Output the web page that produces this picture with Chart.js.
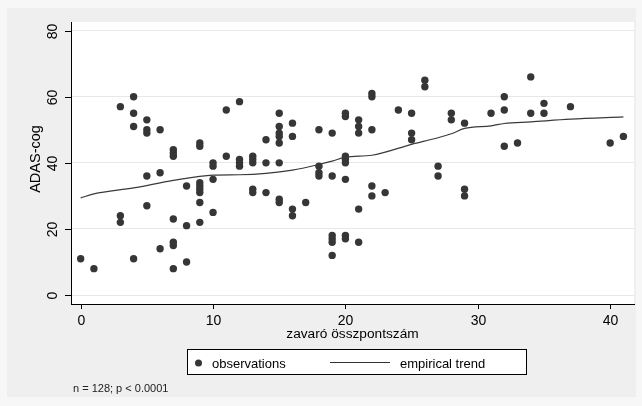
<!DOCTYPE html>
<html>
<head>
<meta charset="utf-8">
<script src="https://cdn.jsdelivr.net/npm/chart.js@4/dist/chart.umd.min.js"></script>
<style>
  html, body { margin: 0; padding: 0; background: #f7f7f7; }
  #wrap { position: absolute; left: 0; top: 0; width: 642px; height: 406px; }
</style>
</head>
<body>
<div id="wrap"><canvas id="c" width="642" height="406"></canvas></div>
<script>
// ---- data ----
const obsX = [0,1,3,3,3,4,4,4,4,5,5,5,5,5,6,6,6,7,7,7,7,7,7,7,8,8,8,
  9,9,9,9,9,9,9,9,10,10,10,10,11,11,12,12,12,12,13,13,13,13,13,14,14,14,
  15,15,15,15,15,15,15,15,16,16,16,16,17,18,18,18,18,19,19,19,19,19,19,
  20,20,20,20,20,20,20,20,21,21,21,21,21,22,22,22,22,22,23,24,25,25,25,
  26,26,27,27,28,28,29,29,29,31,32,32,32,33,34,34,35,35,37,40,41];
const obsY = [11,8,57,24,22,60,55,51,11,53,50,49,36,27,50,37,14,44,43,42,23,16,15,8,33,21,10,
  46,45,34,33,32,31,28,22,40,39,35,25,56,42,58.5,41,40,39,42,41,40,32,31,47,40,31,
  55,51,49,48,46,40,29,28,52,48,26,24,28,50,39,37,36,49,36,18,17,16,12,
  55,54,42,41,40,35,18,17,53,51,49,26,16,61,60,50,33,30,31,56,55,49,47,
  65,63,39,36,55,53,52,32,30,55,60,56,45,46,66,55,58,55,57,46,48];
const trendX = [0,1,4,7,10,12,14,16,18,19,20,22,25,27,28,29,31,32,34,37,41];
const trendY = [29.4,30.6,32.4,34.7,36.3,36.4,36.8,37.8,39.5,40.5,41.7,42.3,45.6,47.6,48.8,50.4,51.2,51.9,52.4,53.2,53.9];
const xTicks = [0,10,20,30,40];
const yTicks = [0,20,40,60,80];
const xTitle = "zavaró összpontszám";
const yTitle = "ADAS-cog";
const legendLabels = ["observations", "empirical trend"];
const footnote = "n = 128; p < 0.0001";

const FONT = '"Liberation Sans", Arial, sans-serif';
const DOT = '#363636';

const obsData = obsX.map((x, i) => ({x: x, y: obsY[i]}));
const trendData = trendX.map((x, i) => ({x: x, y: trendY[i]}));

const decor = {
  id: 'decor',
  beforeDraw(chart) {
    const ctx = chart.ctx, a = chart.chartArea;
    ctx.save();
    ctx.fillStyle = '#f7f7f7';
    ctx.fillRect(0, 0, chart.width, chart.height);
    ctx.fillStyle = '#efefef';
    ctx.fillRect(7, 8, 629, 389);
    ctx.fillStyle = '#ffffff';
    ctx.fillRect(a.left, a.top, a.right - a.left, a.bottom - a.top);
    ctx.restore();
  },
  afterDraw(chart) {
    const ctx = chart.ctx, a = chart.chartArea;
    const xs = chart.scales.x, ys = chart.scales.y;
    ctx.save();
    ctx.strokeStyle = '#000';
    ctx.lineWidth = 1;
    ctx.fillStyle = '#000';
    // x ticks + labels
    ctx.font = '14px ' + FONT;
    ctx.textAlign = 'center';
    ctx.textBaseline = 'alphabetic';
    xTicks.forEach(v => {
      const px = Math.round(xs.getPixelForValue(v)) + 0.5;
      ctx.beginPath(); ctx.moveTo(px, a.bottom); ctx.lineTo(px, a.bottom + 5); ctx.stroke();
      ctx.fillText(String(v), px, 325);
    });
    // y ticks + rotated labels
    yTicks.forEach(v => {
      const py = Math.round(ys.getPixelForValue(v)) + 0.5;
      ctx.beginPath(); ctx.moveTo(a.left - 6, py); ctx.lineTo(a.left, py); ctx.stroke();
      ctx.save();
      ctx.translate(57, py);
      ctx.rotate(-Math.PI / 2);
      ctx.fillText(String(v), 0, 0);
      ctx.restore();
    });
    // axis titles
    ctx.font = '13.7px ' + FONT;
    ctx.fillText(xTitle, (a.left + a.right) / 2, 337.5);
    ctx.save();
    ctx.font = '14.5px ' + FONT;
    ctx.translate(40, 159);
    ctx.rotate(-Math.PI / 2);
    ctx.fillText(yTitle, 0, 0);
    ctx.restore();
    // legend box
    ctx.font = '13px ' + FONT;
    ctx.fillStyle = '#ffffff';
    ctx.fillRect(187, 349, 340, 26);
    ctx.strokeRect(187.5, 349.5, 339, 25);
    ctx.fillStyle = DOT;
    ctx.beginPath(); ctx.arc(198.5, 363, 3.5, 0, Math.PI * 2); ctx.fill();
    ctx.strokeStyle = '#333';
    ctx.beginPath(); ctx.moveTo(330, 362.5); ctx.lineTo(390, 362.5); ctx.stroke();
    ctx.fillStyle = '#000';
    ctx.textAlign = 'left';
    ctx.fillText(legendLabels[0], 212, 367.5);
    ctx.fillText(legendLabels[1], 400, 367.5);
    // footnote
    ctx.font = '11px ' + FONT;
    ctx.fillStyle = '#222';
    ctx.fillText(footnote, 73, 392);
    ctx.restore();
  }
};

new Chart(document.getElementById('c'), {
  type: 'scatter',
  data: {
    datasets: [
      {
        label: legendLabels[0],
        data: obsData,
        backgroundColor: DOT,
        borderWidth: 0,
        pointRadius: 3.7,
        pointHoverRadius: 3.7,
        order: 2
      },
      {
        label: legendLabels[1],
        type: 'line',
        data: trendData,
        borderColor: '#3a3a3a',
        borderWidth: 1.2,
        pointRadius: 0,
        fill: false,
        cubicInterpolationMode: 'monotone',
        order: 1
      }
    ]
  },
  options: {
    responsive: false,
    animation: false,
    devicePixelRatio: 1,
    layout: { padding: { top: 22, right: 8, left: 0, bottom: 0 } },
    plugins: { legend: { display: false }, tooltip: { enabled: false } },
    scales: {
      x: {
        type: 'linear',
        min: -0.73,
        max: 41.8,
        afterBuildTicks: s => { s.ticks = xTicks.map(v => ({value: v})); },
        afterFit: s => { s.height = 102; },
        ticks: { display: false },
        grid: { display: false, drawTicks: false },
        border: { display: true, color: '#000', width: 1 }
      },
      y: {
        type: 'linear',
        min: -2.7,
        max: 82.6,
        afterBuildTicks: s => { s.ticks = yTicks.map(v => ({value: v})); },
        afterFit: s => { s.width = 71; },
        ticks: { display: false },
        grid: { color: '#e8e8e8', lineWidth: 1, drawTicks: false },
        border: { display: true, color: '#000', width: 1 }
      }
    }
  },
  plugins: [decor]
});
</script>
</body>
</html>
